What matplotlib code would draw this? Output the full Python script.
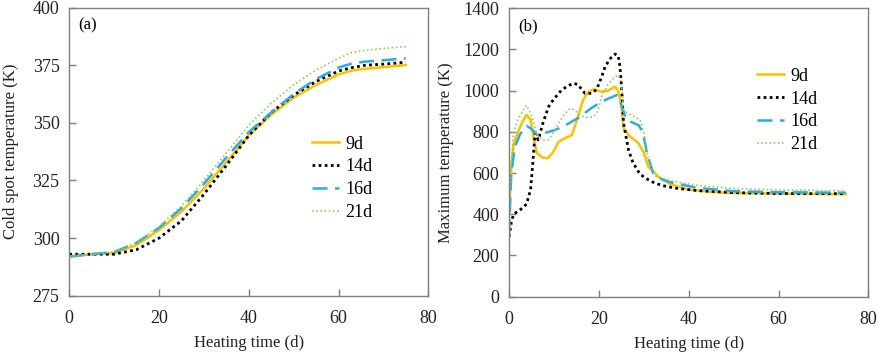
import numpy as np
import matplotlib.pyplot as plt

plt.rcParams["font.family"] = ["Liberation Serif", "DejaVu Serif"]
plt.rcParams["font.size"] = 12

# ---------------- data: (a) cold spot temperature ----------------
t_cold = [0, 5, 10, 15, 20, 25, 30, 35, 40, 45, 50, 55, 60, 63, 66, 70, 75]
cold_9d = [292, 293, 293.5, 297, 303.5, 311.5, 321.5, 333, 344.5, 353.5, 361, 366.5, 371, 372.7, 373.5, 374.2, 375.1]
cold_14d = [293, 293, 293, 295, 300, 307.5, 319, 331.5, 344.5, 354.5, 362, 368, 372.5, 374, 375, 375.5, 376.3]
cold_16d = [292, 293, 294, 298, 304.5, 313, 323.5, 335, 346, 354.5, 362.5, 369, 374, 375.8, 376.6, 377.2, 378]
cold_21d = [292, 293, 294, 298, 305, 314, 325, 337, 349, 358.5, 366.5, 373, 378, 380.6, 381.5, 382.3, 383.1]

# ---------------- data: (b) maximum temperature ----------------
t_9d = [0, 0.5, 1, 2, 3, 3.9, 4.8, 5.4, 6.2, 7.5, 8.6, 9.8, 11, 12.5, 14, 15, 16.5, 17.5, 18.8,
        20.6, 22, 23.6, 24.3, 25, 25.5, 26.6, 28, 28.8, 30, 31, 33.3, 36, 40, 45, 50, 60, 75]
max_9d = [400, 620, 740, 800, 850, 882, 860, 777, 696, 675, 672, 700, 752, 770, 785, 850, 955, 990, 1007,
          995, 1000, 1019, 1000, 930, 817, 785, 760, 745, 700, 631, 582, 545, 520, 508, 503, 500, 497]

t_14d = [0, 0.5, 1, 2, 3, 3.9, 4.8, 5.3, 5.8, 6.5, 7.5, 8.8, 10, 11.7, 13, 14.3, 15.3, 16.9, 18.4,
         19.5, 20.5, 21.4, 22.5, 23.6, 24.3, 24.7, 25.1, 25.5, 26.6, 27.6, 28.8, 30, 31.8, 34, 37, 42, 50, 60, 75]
max_14d = [291, 360, 400, 415, 430, 450, 520, 650, 794, 761, 840, 922, 960, 1003, 1022, 1036, 1030, 987, 987,
           1006, 1060, 1117, 1155, 1178, 1170, 1117, 1000, 842, 712, 650, 607, 580, 558, 540, 527, 515, 505, 501, 500]

t_16d = [0, 0.5, 1.3, 2.5, 3.9, 5, 6.2, 8, 10.2, 12, 14, 16, 17.7, 19, 20.6, 22.5, 24, 24.6, 25.1,
         26.2, 27.5, 28.8, 29.8, 30.7, 32.1, 34, 36, 42, 50, 60, 75]
max_16d = [300, 600, 728, 790, 829, 815, 785, 795, 809, 825, 850, 875, 906, 925, 947, 965, 979, 960, 922,
           858, 845, 833, 800, 696, 599, 570, 555, 528, 512, 507, 505]

t_21d = [0, 0.5, 1, 2, 3, 3.9, 5, 6.2, 7.5, 8.8, 10, 11, 12.5, 13.6, 14.7, 15.8, 17, 18.8, 19.8,
         20.6, 22, 23.5, 24.3, 25, 25.5, 26.5, 27.3, 29.2, 30.2, 31, 32.8, 35, 38, 42, 50, 60, 75]
max_21d = [350, 640, 800, 860, 900, 930, 880, 790, 760, 761, 800, 842, 890, 914, 905, 882, 870, 874, 900,
           971, 1030, 1065, 1076, 1040, 906, 890, 882, 858, 780, 663, 582, 568, 555, 540, 525, 518, 514]

labels = ["9d", "14d", "16d", "21d"]
colors = ["#FFC000", "#000000", "#2FA9E3", "#92D050"]
styles = [dict(ls="-", lw=1.8),
          dict(ls=(0, (1, 1.2)), lw=2.0),
          dict(ls=(0, (6, 3)), lw=1.8),
          dict(ls=(0, (1, 1.5)), lw=1.2)]

fig = plt.figure(figsize=(8.79, 3.54), dpi=100)
ax1 = fig.add_axes([0.0788, 0.1647, 0.4084, 0.8136])
ax2 = fig.add_axes([0.5791, 0.1619, 0.4088, 0.8147])

# panel (a)
for y, lab, c, st in zip([cold_9d, cold_14d, cold_16d, cold_21d], labels, colors, styles):
    ax1.plot(t_cold, y, color=c, label=lab, **st)
ax1.set_xlim(0, 80)
ax1.set_ylim(275, 400)
ax1.set_xticks([0, 20, 40, 60, 80])
ax1.set_yticks([275, 300, 325, 350, 375, 400])
ax1.set_xlabel("Heating time (d)", labelpad=6)
ax1.set_ylabel("Cold spot temperature (K)", labelpad=10)
ax1.text(0.025, 0.965, "(a)", transform=ax1.transAxes, va="top", ha="left", fontsize=12)
ax1.legend(loc="upper left", bbox_to_anchor=(0.63, 0.612), frameon=False, fontsize=13,
           handlelength=1.5, handletextpad=0.35, labelspacing=0.32)

# panel (b)
for x, y, lab, c, st in zip([t_9d, t_14d, t_16d, t_21d], [max_9d, max_14d, max_16d, max_21d],
                            labels, colors, styles):
    ax2.plot(x, y, color=c, label=lab, **st)
ax2.set_xlim(0, 80)
ax2.set_ylim(0, 1400)
ax2.set_xticks([0, 20, 40, 60, 80])
ax2.set_yticks(np.arange(0, 1401, 200))
ax2.set_xlabel("Heating time (d)", labelpad=6)
ax2.set_ylabel("Maximum temperature (K)", labelpad=7)
ax2.text(0.025, 0.965, "(b)", transform=ax2.transAxes, va="top", ha="left", fontsize=12)
ax2.legend(loc="upper left", bbox_to_anchor=(0.645, 0.85), frameon=False, fontsize=13,
           handlelength=1.5, handletextpad=0.35, labelspacing=0.32)

for ax in (ax1, ax2):
    for sp in ax.spines.values():
        sp.set_color("#7f7f7f")
        sp.set_linewidth(1.0)
    ax.tick_params(direction="in", length=5, width=1, color="#7f7f7f",
                   labelsize=13, pad=7, labelcolor="#222222")
    ax.tick_params(axis="x", pad=10)
    ax.yaxis.label.set_color("#222222")
    ax.xaxis.label.set_color("#222222")

fig.savefig("out.png", dpi=100)
